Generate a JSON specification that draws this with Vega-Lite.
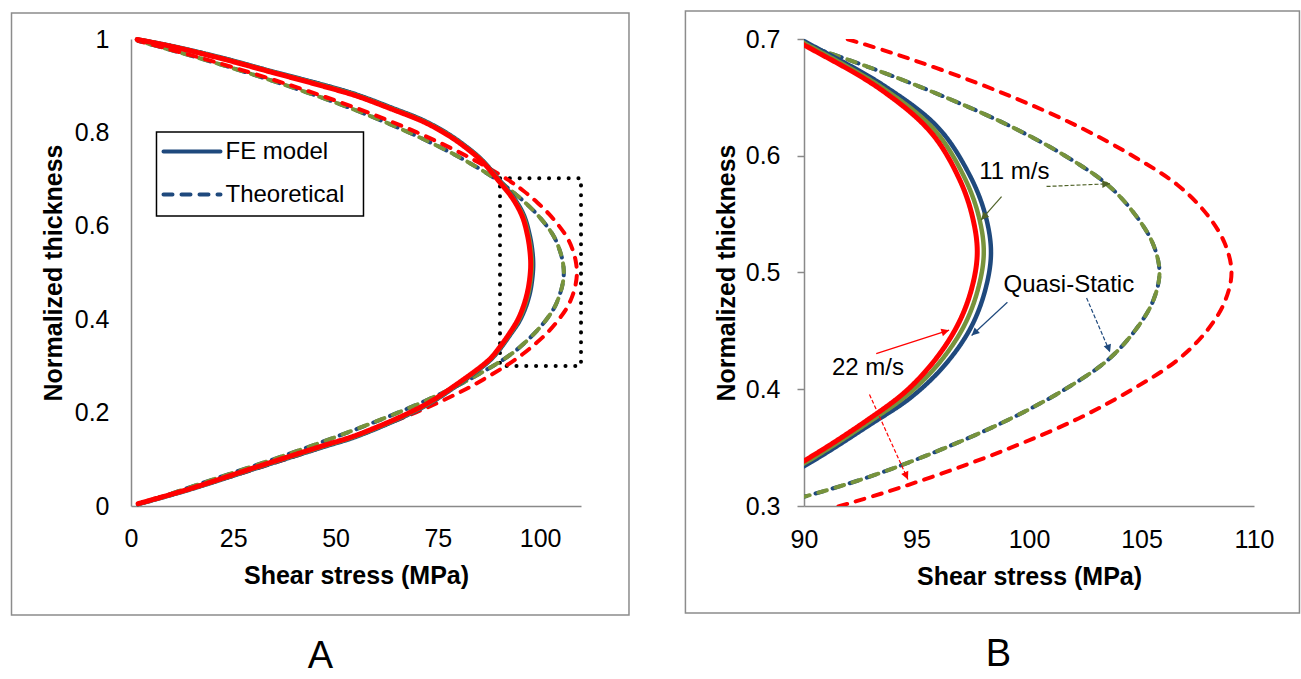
{
  "$schema": "https://vega.github.io/schema/vega-lite/v6.json",
  "background": "white",
  "padding": {"left": 10, "top": 10, "right": 3, "bottom": 2},
  "config": {
    "font": "Liberation Sans",
    "view": {"stroke": null},
    "axis": {"grid": false, "domainColor": "#898989", "domainWidth": 1.5, "ticks": false, "labelFlush": false, "labelFont": "Liberation Sans", "labelFontSize": 25, "labelColor": "#000", "titleFont": "Liberation Sans", "titleFontSize": 25, "titleFontWeight": "bold", "titleColor": "#000"},
    "title": {"font": "Liberation Sans", "fontSize": 38, "fontWeight": "normal", "color": "#000"}
  },
  "datasets": {
    "curves": [
      {"s":"FE22","t":"FE model","x":1.5,"y":0.999},{"s":"FE22","t":"FE model","x":9.9,"y":0.984},{"s":"FE22","t":"FE model","x":22.1,"y":0.958},{"s":"FE22","t":"FE model","x":34.3,"y":0.929},{"s":"FE22","t":"FE model","x":46.5,"y":0.9},{"s":"FE22","t":"FE model","x":55.12,"y":0.878},{"s":"FE22","t":"FE model","x":63.68,"y":0.85},{"s":"FE22","t":"FE model","x":71.43,"y":0.823},{"s":"FE22","t":"FE model","x":77.12,"y":0.796},{"s":"FE22","t":"FE model","x":81.28,"y":0.771},{"s":"FE22","t":"FE model","x":85.68,"y":0.739},{"s":"FE22","t":"FE model","x":90.0,"y":0.6949},{"s":"FE22","t":"FE model","x":93.44,"y":0.6564},{"s":"FE22","t":"FE model","x":95.67,"y":0.6194},{"s":"FE22","t":"FE model","x":96.92,"y":0.5794},{"s":"FE22","t":"FE model","x":97.5,"y":0.5467},{"s":"FE22","t":"FE model","x":97.7,"y":0.5168},{"s":"FE22","t":"FE model","x":97.46,"y":0.4868},{"s":"FE22","t":"FE model","x":96.88,"y":0.4569},{"s":"FE22","t":"FE model","x":95.9,"y":0.427},{"s":"FE22","t":"FE model","x":94.56,"y":0.3988},{"s":"FE22","t":"FE model","x":92.78,"y":0.3731},{"s":"FE22","t":"FE model","x":90.0,"y":0.3386},{"s":"FE22","t":"FE model","x":87.6,"y":0.3137},{"s":"FE22","t":"FE model","x":79.5,"y":0.26},{"s":"FE22","t":"FE model","x":71.35,"y":0.2144},{"s":"FE22","t":"FE model","x":55.5,"y":0.153},{"s":"FE22","t":"FE model","x":46.5,"y":0.128},{"s":"FE22","t":"FE model","x":30.2,"y":0.0822},{"s":"FE22","t":"FE model","x":13.97,"y":0.0357},{"s":"FE22","t":"FE model","x":1.75,"y":0.005},
      {"s":"FEQS","t":"FE model","x":1.5,"y":0.999},{"s":"FEQS","t":"FE model","x":9.9,"y":0.985},{"s":"FEQS","t":"FE model","x":22.1,"y":0.96},{"s":"FEQS","t":"FE model","x":34.3,"y":0.931},{"s":"FEQS","t":"FE model","x":46.5,"y":0.903},{"s":"FEQS","t":"FE model","x":55.12,"y":0.881},{"s":"FEQS","t":"FE model","x":63.68,"y":0.853},{"s":"FEQS","t":"FE model","x":71.43,"y":0.826},{"s":"FEQS","t":"FE model","x":77.12,"y":0.799},{"s":"FEQS","t":"FE model","x":81.28,"y":0.774},{"s":"FEQS","t":"FE model","x":85.68,"y":0.742},{"s":"FEQS","t":"FE model","x":90.08,"y":0.6974},{"s":"FEQS","t":"FE model","x":93.59,"y":0.6596},{"s":"FEQS","t":"FE model","x":95.97,"y":0.624},{"s":"FEQS","t":"FE model","x":97.36,"y":0.5835},{"s":"FEQS","t":"FE model","x":98.06,"y":0.5492},{"s":"FEQS","t":"FE model","x":98.31,"y":0.5168},{"s":"FEQS","t":"FE model","x":98.04,"y":0.4839},{"s":"FEQS","t":"FE model","x":97.39,"y":0.4519},{"s":"FEQS","t":"FE model","x":96.28,"y":0.4212},{"s":"FEQS","t":"FE model","x":94.8,"y":0.3937},{"s":"FEQS","t":"FE model","x":92.91,"y":0.3693},{"s":"FEQS","t":"FE model","x":90.11,"y":0.3353},{"s":"FEQS","t":"FE model","x":87.6,"y":0.3105},{"s":"FEQS","t":"FE model","x":79.5,"y":0.257},{"s":"FEQS","t":"FE model","x":71.35,"y":0.2114},{"s":"FEQS","t":"FE model","x":55.5,"y":0.15},{"s":"FEQS","t":"FE model","x":46.5,"y":0.125},{"s":"FEQS","t":"FE model","x":30.2,"y":0.0797},{"s":"FEQS","t":"FE model","x":13.97,"y":0.0342},{"s":"FEQS","t":"FE model","x":1.75,"y":0.004},
      {"s":"FE11","t":"FE model","x":1.5,"y":0.999},{"s":"FE11","t":"FE model","x":9.9,"y":0.9845},{"s":"FE11","t":"FE model","x":22.1,"y":0.959},{"s":"FE11","t":"FE model","x":34.3,"y":0.93},{"s":"FE11","t":"FE model","x":46.5,"y":0.9015},{"s":"FE11","t":"FE model","x":55.12,"y":0.8795},{"s":"FE11","t":"FE model","x":63.68,"y":0.8515},{"s":"FE11","t":"FE model","x":71.43,"y":0.8245},{"s":"FE11","t":"FE model","x":77.12,"y":0.7975},{"s":"FE11","t":"FE model","x":81.28,"y":0.7725},{"s":"FE11","t":"FE model","x":85.68,"y":0.7405},{"s":"FE11","t":"FE model","x":90.04,"y":0.6962},{"s":"FE11","t":"FE model","x":93.51,"y":0.6579},{"s":"FE11","t":"FE model","x":95.82,"y":0.6216},{"s":"FE11","t":"FE model","x":97.13,"y":0.5814},{"s":"FE11","t":"FE model","x":97.77,"y":0.5479},{"s":"FE11","t":"FE model","x":97.99,"y":0.5168},{"s":"FE11","t":"FE model","x":97.73,"y":0.4855},{"s":"FE11","t":"FE model","x":97.12,"y":0.4545},{"s":"FE11","t":"FE model","x":96.08,"y":0.4242},{"s":"FE11","t":"FE model","x":94.67,"y":0.3964},{"s":"FE11","t":"FE model","x":92.84,"y":0.3713},{"s":"FE11","t":"FE model","x":90.05,"y":0.337},{"s":"FE11","t":"FE model","x":87.6,"y":0.3121},{"s":"FE11","t":"FE model","x":79.5,"y":0.2585},{"s":"FE11","t":"FE model","x":71.35,"y":0.2129},{"s":"FE11","t":"FE model","x":55.5,"y":0.1515},{"s":"FE11","t":"FE model","x":46.5,"y":0.1265},{"s":"FE11","t":"FE model","x":30.2,"y":0.081},{"s":"FE11","t":"FE model","x":13.97,"y":0.035},{"s":"FE11","t":"FE model","x":1.75,"y":0.0045},
      {"s":"TQS","t":"Theoretical","x":1.7,"y":0.004},{"s":"TQS","t":"Theoretical","x":8.3,"y":0.022},{"s":"TQS","t":"Theoretical","x":20.1,"y":0.057},{"s":"TQS","t":"Theoretical","x":38.1,"y":0.11},{"s":"TQS","t":"Theoretical","x":54.0,"y":0.161},{"s":"TQS","t":"Theoretical","x":67.7,"y":0.209},{"s":"TQS","t":"Theoretical","x":79.4,"y":0.256},{"s":"TQS","t":"Theoretical","x":88.9,"y":0.302},{"s":"TQS","t":"Theoretical","x":92.9,"y":0.325},{"s":"TQS","t":"Theoretical","x":96.3,"y":0.35},{"s":"TQS","t":"Theoretical","x":99.2,"y":0.375},{"s":"TQS","t":"Theoretical","x":101.6,"y":0.4},{"s":"TQS","t":"Theoretical","x":103.5,"y":0.425},{"s":"TQS","t":"Theoretical","x":104.7,"y":0.45},{"s":"TQS","t":"Theoretical","x":105.5,"y":0.475},{"s":"TQS","t":"Theoretical","x":105.8,"y":0.5},{"s":"TQS","t":"Theoretical","x":105.5,"y":0.525},{"s":"TQS","t":"Theoretical","x":104.7,"y":0.55},{"s":"TQS","t":"Theoretical","x":103.5,"y":0.575},{"s":"TQS","t":"Theoretical","x":101.6,"y":0.6},{"s":"TQS","t":"Theoretical","x":99.2,"y":0.625},{"s":"TQS","t":"Theoretical","x":96.3,"y":0.65},{"s":"TQS","t":"Theoretical","x":93.0,"y":0.675},{"s":"TQS","t":"Theoretical","x":89.2,"y":0.7},{"s":"TQS","t":"Theoretical","x":79.6,"y":0.75},{"s":"TQS","t":"Theoretical","x":67.9,"y":0.8},{"s":"TQS","t":"Theoretical","x":54.2,"y":0.85},{"s":"TQS","t":"Theoretical","x":38.2,"y":0.9},{"s":"TQS","t":"Theoretical","x":20.2,"y":0.95},{"s":"TQS","t":"Theoretical","x":8.3,"y":0.98},{"s":"TQS","t":"Theoretical","x":1.7,"y":0.996},
      {"s":"T11","t":"Theoretical","x":1.7,"y":0.004},{"s":"T11","t":"Theoretical","x":8.3,"y":0.022},{"s":"T11","t":"Theoretical","x":20.1,"y":0.057},{"s":"T11","t":"Theoretical","x":38.1,"y":0.11},{"s":"T11","t":"Theoretical","x":54.0,"y":0.161},{"s":"T11","t":"Theoretical","x":67.7,"y":0.209},{"s":"T11","t":"Theoretical","x":79.4,"y":0.256},{"s":"T11","t":"Theoretical","x":88.9,"y":0.302},{"s":"T11","t":"Theoretical","x":92.9,"y":0.325},{"s":"T11","t":"Theoretical","x":96.3,"y":0.35},{"s":"T11","t":"Theoretical","x":99.2,"y":0.375},{"s":"T11","t":"Theoretical","x":101.6,"y":0.4},{"s":"T11","t":"Theoretical","x":103.5,"y":0.425},{"s":"T11","t":"Theoretical","x":104.7,"y":0.45},{"s":"T11","t":"Theoretical","x":105.5,"y":0.475},{"s":"T11","t":"Theoretical","x":105.8,"y":0.5},{"s":"T11","t":"Theoretical","x":105.5,"y":0.525},{"s":"T11","t":"Theoretical","x":104.7,"y":0.55},{"s":"T11","t":"Theoretical","x":103.5,"y":0.575},{"s":"T11","t":"Theoretical","x":101.6,"y":0.6},{"s":"T11","t":"Theoretical","x":99.2,"y":0.625},{"s":"T11","t":"Theoretical","x":96.3,"y":0.65},{"s":"T11","t":"Theoretical","x":93.0,"y":0.675},{"s":"T11","t":"Theoretical","x":89.2,"y":0.7},{"s":"T11","t":"Theoretical","x":79.6,"y":0.75},{"s":"T11","t":"Theoretical","x":67.9,"y":0.8},{"s":"T11","t":"Theoretical","x":54.2,"y":0.85},{"s":"T11","t":"Theoretical","x":38.2,"y":0.9},{"s":"T11","t":"Theoretical","x":20.2,"y":0.95},{"s":"T11","t":"Theoretical","x":8.3,"y":0.98},{"s":"T11","t":"Theoretical","x":1.7,"y":0.996},
      {"s":"T22","t":"Theoretical","x":1.7,"y":0.004},{"s":"T22","t":"Theoretical","x":8.5,"y":0.021},{"s":"T22","t":"Theoretical","x":20.7,"y":0.053},{"s":"T22","t":"Theoretical","x":39.2,"y":0.104},{"s":"T22","t":"Theoretical","x":55.6,"y":0.153},{"s":"T22","t":"Theoretical","x":69.8,"y":0.201},{"s":"T22","t":"Theoretical","x":81.8,"y":0.25},{"s":"T22","t":"Theoretical","x":91.6,"y":0.3},{"s":"T22","t":"Theoretical","x":95.7,"y":0.325},{"s":"T22","t":"Theoretical","x":99.2,"y":0.35},{"s":"T22","t":"Theoretical","x":102.2,"y":0.375},{"s":"T22","t":"Theoretical","x":104.6,"y":0.4},{"s":"T22","t":"Theoretical","x":106.6,"y":0.425},{"s":"T22","t":"Theoretical","x":107.9,"y":0.45},{"s":"T22","t":"Theoretical","x":108.7,"y":0.475},{"s":"T22","t":"Theoretical","x":109.0,"y":0.5},{"s":"T22","t":"Theoretical","x":108.7,"y":0.525},{"s":"T22","t":"Theoretical","x":107.9,"y":0.55},{"s":"T22","t":"Theoretical","x":106.6,"y":0.575},{"s":"T22","t":"Theoretical","x":104.6,"y":0.6},{"s":"T22","t":"Theoretical","x":102.2,"y":0.625},{"s":"T22","t":"Theoretical","x":99.3,"y":0.65},{"s":"T22","t":"Theoretical","x":95.9,"y":0.675},{"s":"T22","t":"Theoretical","x":91.9,"y":0.7},{"s":"T22","t":"Theoretical","x":81.9,"y":0.75},{"s":"T22","t":"Theoretical","x":69.9,"y":0.8},{"s":"T22","t":"Theoretical","x":55.7,"y":0.85},{"s":"T22","t":"Theoretical","x":39.3,"y":0.9},{"s":"T22","t":"Theoretical","x":20.8,"y":0.95},{"s":"T22","t":"Theoretical","x":8.5,"y":0.98},{"s":"T22","t":"Theoretical","x":1.7,"y":0.996}
    ],
    "arrows": [
      {"id":"a1","g":"11","d":0,"x":98.78,"y":0.565,"x2":97.87,"y2":0.545},
      {"id":"a2","g":"11","d":1,"x":100.78,"y":0.5737,"x2":103.6,"y2":0.576},
      {"id":"a3","g":"QS","d":0,"x":99.04,"y":0.4745,"x2":97.45,"y2":0.446},
      {"id":"a4","g":"QS","d":1,"x":102.56,"y":0.4782,"x2":103.6,"y2":0.4317},
      {"id":"a5","g":"22","d":0,"x":93.21,"y":0.4305,"x2":96.45,"y2":0.4506},
      {"id":"a6","g":"22","d":1,"x":92.91,"y":0.3955,"x2":94.62,"y2":0.3227}
    ],
    "notes": [
      {"label":"11 m/s","x":99.35,"y":0.586},
      {"label":"Quasi-Static","x":101.77,"y":0.489},
      {"label":"22 m/s","x":92.84,"y":0.418}
    ]
  },
  "spacing": 223,
  "bounds": "flush",
  "resolve": {"scale": {"strokeDash": "independent", "color": "independent"}, "legend": {"strokeDash": "independent"}},
  "hconcat": [
    {
      "width": 450, "height": 467,
      "title": {"text": "A", "orient": "bottom", "anchor": "middle", "offset": 22, "dx": -35.5},
      "data": {"name": "curves"},
      "encoding": {
        "x": {"field": "x", "type": "quantitative", "scale": {"domain": [0, 110], "nice": false, "zero": false}, "axis": {"title": "Shear stress (MPa)", "values": [0, 25, 50, 75, 100], "labelPadding": 20, "titlePadding": 12}},
        "y": {"field": "y", "type": "quantitative", "scale": {"domain": [0, 1], "nice": false}, "axis": {"title": "Normalized thickness", "values": [0, 0.2, 0.4, 0.6, 0.8, 1], "format": "~g", "labelPadding": 22, "titlePadding": 8}}
      },
      "layer": [
        {"data": {"values": [{"x": -29.21, "xe": 121.73, "y": -0.2334, "ye": 1.0557}]}, "mark": {"type": "rect", "filled": false, "stroke": "#8c8c8c", "strokeWidth": 1.5},
         "encoding": {"x2": {"field": "xe"}, "y2": {"field": "ye"}}},
        {"data": {"values": [{"x": 90.2, "xe": 110, "y": 0.3, "ye": 0.702}]}, "mark": {"type": "rect", "filled": false, "stroke": "#000", "strokeWidth": 4, "strokeDash": [0.1, 9.7], "strokeCap": "round"},
         "encoding": {"x2": {"field": "xe"}, "y2": {"field": "ye"}}},
        {"transform": [{"filter": "datum.s === 'TQS'"}], "mark": {"type": "line", "color": "#1F497D", "strokeWidth": 4, "strokeCap": "round", "interpolate": "catmull-rom", "strokeDashOffset": 3},
         "encoding": {"order": {"field": "y", "type": "quantitative"}, "strokeDash": {"field": "t", "type": "nominal", "scale": {"domain": ["FE model", "Theoretical"], "range": [[1, 0], [9, 9]]}, "legend": {"title": null, "orient": "none", "legendX": 30.5, "legendY": 82, "padding": 0, "labelFont": "Liberation Sans", "labelFontSize": 24, "labelColor": "#000", "symbolType": "stroke", "symbolSize": 3249, "symbolStrokeWidth": 4, "symbolStrokeColor": "#1F497D", "labelOffset": 3, "rowPadding": -10, "encode": {"symbols": {"update": {"stroke": {"value": "#1F497D"}, "strokeCap": {"value": "round"}}}}}}}},
        {"transform": [{"filter": "datum.s === 'T11'"}], "mark": {"type": "line", "color": "#77933C", "strokeWidth": 4, "strokeCap": "round", "interpolate": "catmull-rom"},
         "encoding": {"order": {"field": "y", "type": "quantitative"}, "strokeDash": {"field": "t", "type": "nominal"}}},
        {"transform": [{"filter": "datum.s === 'T22'"}], "mark": {"type": "line", "color": "#FF0000", "strokeWidth": 4, "strokeCap": "round", "interpolate": "catmull-rom"},
         "encoding": {"order": {"field": "y", "type": "quantitative"}, "strokeDash": {"field": "t", "type": "nominal"}}},
        {"transform": [{"filter": "datum.s === 'FEQS'"}], "mark": {"type": "line", "color": "#1F497D", "strokeWidth": 4.5, "strokeCap": "round", "interpolate": "catmull-rom"},
         "encoding": {"order": {"field": "y", "type": "quantitative"}, "strokeDash": {"field": "t", "type": "nominal"}}},
        {"transform": [{"filter": "datum.s === 'FE11'"}], "mark": {"type": "line", "color": "#77933C", "strokeWidth": 4.5, "strokeCap": "round", "interpolate": "catmull-rom"},
         "encoding": {"order": {"field": "y", "type": "quantitative"}, "strokeDash": {"field": "t", "type": "nominal"}}},
        {"transform": [{"filter": "datum.s === 'FE22'"}], "mark": {"type": "line", "color": "#FF0000", "strokeWidth": 5, "strokeCap": "round", "interpolate": "catmull-rom"},
         "encoding": {"order": {"field": "y", "type": "quantitative"}, "strokeDash": {"field": "t", "type": "nominal"}}},
        {"data": {"values": [{"x": 6.23, "xe": 56.83, "y": 0.621, "ye": 0.8009}]}, "mark": {"type": "rect", "fill": "#fff", "stroke": "#000", "strokeWidth": 1.5},
         "encoding": {"x2": {"field": "xe"}, "y2": {"field": "ye"}}}
      ]
    },
    {
      "width": 450, "height": 467,
      "title": {"text": "B", "orient": "bottom", "anchor": "middle", "offset": 22, "dx": -30.5},
      "data": {"name": "curves"},
      "encoding": {
        "x": {"field": "x", "type": "quantitative", "scale": {"domain": [90, 110], "nice": false, "zero": false}, "axis": {"title": "Shear stress (MPa)", "values": [90, 95, 100, 105, 110], "labelPadding": 21, "titlePadding": 12}},
        "y": {"field": "y", "type": "quantitative", "scale": {"domain": [0.3, 0.7], "nice": false, "zero": false}, "axis": {"title": "Normalized thickness", "values": [0.3, 0.4, 0.5, 0.6, 0.7], "format": "~g", "ticks": true, "tickSize": 7, "tickColor": "#898989", "tickWidth": 1.5, "labelPadding": 17, "titlePadding": 6}}
      },
      "layer": [
        {"data": {"values": [{"x": 84.73, "xe": 112.02, "y": 0.2084, "ye": 0.724}]}, "mark": {"type": "rect", "filled": false, "stroke": "#8c8c8c", "strokeWidth": 1.5},
         "encoding": {"x2": {"field": "xe"}, "y2": {"field": "ye"}}},
        {"transform": [{"filter": "datum.s === 'TQS'"}], "mark": {"type": "line", "color": "#1F497D", "strokeWidth": 4, "strokeCap": "round", "interpolate": "catmull-rom", "strokeDashOffset": 3, "clip": true},
         "encoding": {"order": {"field": "y", "type": "quantitative"}, "strokeDash": {"field": "t", "type": "nominal", "scale": {"domain": ["FE model", "Theoretical"], "range": [[1, 0], [9, 9]]}, "legend": null}}},
        {"transform": [{"filter": "datum.s === 'T11'"}], "mark": {"type": "line", "color": "#77933C", "strokeWidth": 4, "strokeCap": "round", "interpolate": "catmull-rom", "clip": true},
         "encoding": {"order": {"field": "y", "type": "quantitative"}, "strokeDash": {"field": "t", "type": "nominal", "legend": null}}},
        {"transform": [{"filter": "datum.s === 'T22'"}], "mark": {"type": "line", "color": "#FF0000", "strokeWidth": 4, "strokeCap": "round", "interpolate": "catmull-rom", "clip": true},
         "encoding": {"order": {"field": "y", "type": "quantitative"}, "strokeDash": {"field": "t", "type": "nominal", "legend": null}}},
        {"transform": [{"filter": "datum.s === 'FEQS'"}], "mark": {"type": "line", "color": "#1F497D", "strokeWidth": 4.5, "strokeCap": "round", "interpolate": "catmull-rom", "clip": true},
         "encoding": {"order": {"field": "y", "type": "quantitative"}, "strokeDash": {"field": "t", "type": "nominal", "legend": null}}},
        {"transform": [{"filter": "datum.s === 'FE11'"}], "mark": {"type": "line", "color": "#77933C", "strokeWidth": 4.5, "strokeCap": "round", "interpolate": "catmull-rom", "clip": true},
         "encoding": {"order": {"field": "y", "type": "quantitative"}, "strokeDash": {"field": "t", "type": "nominal", "legend": null}}},
        {"transform": [{"filter": "datum.s === 'FE22'"}], "mark": {"type": "line", "color": "#FF0000", "strokeWidth": 5, "strokeCap": "round", "interpolate": "catmull-rom", "clip": true},
         "encoding": {"order": {"field": "y", "type": "quantitative"}, "strokeDash": {"field": "t", "type": "nominal", "legend": null}}},
        {"data": {"name": "arrows"}, "transform": [{"filter": "datum.d === 0"}], "mark": {"type": "rule", "strokeWidth": 1.2},
         "encoding": {"x2": {"field": "x2"}, "y2": {"field": "y2"}, "color": {"field": "g", "type": "nominal", "scale": {"domain": ["11", "QS", "22"], "range": ["#4F6228", "#1F497D", "#FF0000"]}, "legend": null}}},
        {"data": {"name": "arrows"}, "transform": [{"filter": "datum.d === 1"}], "mark": {"type": "rule", "strokeWidth": 1.2, "strokeDash": [4, 2]},
         "encoding": {"x2": {"field": "x2"}, "y2": {"field": "y2"}, "color": {"field": "g", "type": "nominal", "legend": null}}},
        {"data": {"name": "arrows"}, "transform": [{"filter": "datum.id === 'a1'"}], "mark": {"type": "point", "shape": "M0,0L-0.5,1L0.5,1Z", "filled": true, "size": 240, "angle": 221.5, "opacity": 1, "strokeWidth": 0},
         "encoding": {"x": {"field": "x2", "type": "quantitative"}, "y": {"field": "y2", "type": "quantitative"}, "color": {"field": "g", "type": "nominal", "legend": null}}},
        {"data": {"name": "arrows"}, "transform": [{"filter": "datum.id === 'a2'"}], "mark": {"type": "point", "shape": "M0,0L-0.5,1L0.5,1Z", "filled": true, "size": 240, "angle": 87.6, "opacity": 1, "strokeWidth": 0},
         "encoding": {"x": {"field": "x2", "type": "quantitative"}, "y": {"field": "y2", "type": "quantitative"}, "color": {"field": "g", "type": "nominal", "legend": null}}},
        {"data": {"name": "arrows"}, "transform": [{"filter": "datum.id === 'a3'"}], "mark": {"type": "point", "shape": "M0,0L-0.5,1L0.5,1Z", "filled": true, "size": 240, "angle": 226.6, "opacity": 1, "strokeWidth": 0},
         "encoding": {"x": {"field": "x2", "type": "quantitative"}, "y": {"field": "y2", "type": "quantitative"}, "color": {"field": "g", "type": "nominal", "legend": null}}},
        {"data": {"name": "arrows"}, "transform": [{"filter": "datum.id === 'a4'"}], "mark": {"type": "point", "shape": "M0,0L-0.5,1L0.5,1Z", "filled": true, "size": 240, "angle": 159.8, "opacity": 1, "strokeWidth": 0},
         "encoding": {"x": {"field": "x2", "type": "quantitative"}, "y": {"field": "y2", "type": "quantitative"}, "color": {"field": "g", "type": "nominal", "legend": null}}},
        {"data": {"name": "arrows"}, "transform": [{"filter": "datum.id === 'a5'"}], "mark": {"type": "point", "shape": "M0,0L-0.5,1L0.5,1Z", "filled": true, "size": 240, "angle": 72.7, "opacity": 1, "strokeWidth": 0},
         "encoding": {"x": {"field": "x2", "type": "quantitative"}, "y": {"field": "y2", "type": "quantitative"}, "color": {"field": "g", "type": "nominal", "legend": null}}},
        {"data": {"name": "arrows"}, "transform": [{"filter": "datum.id === 'a6'"}], "mark": {"type": "point", "shape": "M0,0L-0.5,1L0.5,1Z", "filled": true, "size": 240, "angle": 155.7, "opacity": 1, "strokeWidth": 0},
         "encoding": {"x": {"field": "x2", "type": "quantitative"}, "y": {"field": "y2", "type": "quantitative"}, "color": {"field": "g", "type": "nominal", "legend": null}}},
        {"data": {"name": "notes"}, "mark": {"type": "text", "fontSize": 24, "font": "Liberation Sans", "color": "#000", "align": "center", "baseline": "middle"},
         "encoding": {"text": {"field": "label", "type": "nominal"}}}
      ]
    }
  ]
}
